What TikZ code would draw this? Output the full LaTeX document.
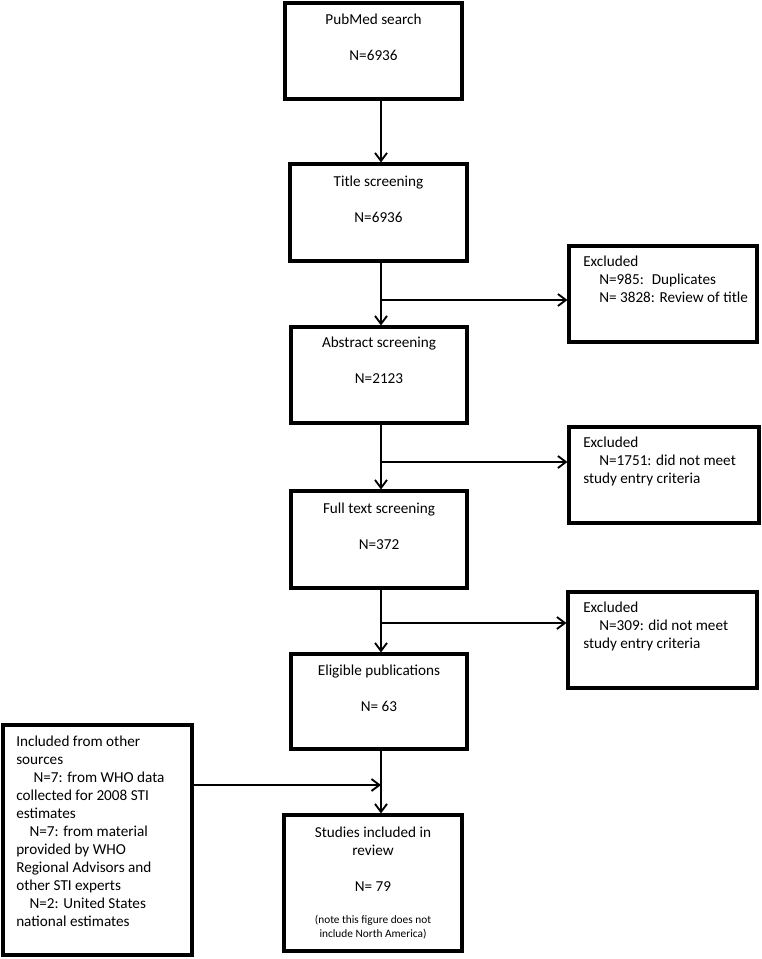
\documentclass[tikz,border=0pt]{standalone}
\usepackage{fontspec}
\setmainfont{Carlito}
\usetikzlibrary{arrows.meta,fit}
\newcommand{\boxlw}{2.3pt}
\newcommand{\arrlw}{1.4pt}

\begin{document}
\begin{tikzpicture}[x=0.75pt,y=-0.75pt,
	box/.style={draw, line width=\boxlw, inner sep=0pt},
	txt/.style={inner sep=0pt, font=\fontsize{11.4}{13.5}\selectfont},
	ctxt/.style={txt, anchor=north, align=center},
	ltxt/.style={txt, anchor=north west, align=left},
	arr/.style={line width=\arrlw, -{Straight Barb[length=6pt,width=9pt]}}]

	\useasboundingbox (0,0) rectangle (762,959);

	% main column
	\node[box, fit={(285,3) (462,99)}] (pubmed) {};
	\node[box, fit={(290,164) (467,261)}] (title) {};
	\node[box, fit={(291,327) (467,423)}] (abstract) {};
	\node[box, fit={(291,491) (467,588)}] (fulltext) {};
	\node[box, fit={(291,654) (467,749)}] (eligible) {};
	\node[box, fit={(284,815) (462,951)}] (studies) {};

	\node[ctxt] (pubmedtxt) at (373.5,14) {PubMed search\\[13.5pt]N=6936};
	\node[ctxt] (titletxt) at (378.5,176) {Title screening\\[13.5pt]N=6936};
	\node[ctxt] (abstracttxt) at (379,337) {Abstract screening\\[13.5pt]N=2123};
	\node[ctxt] (fulltexttxt) at (379,503) {Full text screening\\[13.5pt]N=372};
	\node[ctxt] (eligibletxt) at (379,665) {Eligible publications\\[13.5pt]N= 63};
	\node[ctxt] (studiestxt) at (373,827) {Studies included in\\review\\[13.5pt]N= 79};
	\node[ctxt, font=\fontsize{8.5}{10.5}\selectfont] (studiesnote) at (373,915)
		{(note this figure does not\\include North America)};

	% excluded boxes
	\node[box, fit={(569,246) (757,342)}] (excl1) {};
	\node[box, fit={(569,427) (759,523)}] (excl2) {};
	\node[box, fit={(568,592) (757,688)}] (excl3) {};

	\node[ltxt] (excl1txt) at (583,256)
		{Excluded\\\hspace*{12pt}N=985:~ Duplicates\\\hspace*{12pt}N= 3828: Review of title};
	\node[ltxt] (excl2txt) at (583,437)
		{Excluded\\\hspace*{12pt}N=1751: did not meet\\study entry criteria};
	\node[ltxt] (excl3txt) at (583,602)
		{Excluded\\\hspace*{12pt}N=309: did not meet\\study entry criteria};

	% other sources
	\node[box, fit={(3,725) (192,955)}] (other) {};
	\node[ltxt] (othertxt) at (16,736)
		{Included from other\\sources\\\hspace*{13pt}N=7: from WHO data\\collected for 2008 STI\\estimates\\
		\hspace*{10pt}N=7: from material\\provided by WHO\\Regional Advisors and\\other STI experts\\
		\hspace*{10pt}N=2: United States\\national estimates};

	% connectors
	\coordinate (spine) at (381,0);
	\draw[arr] (pubmed.south -| spine) -- (title.north -| spine);
	\draw[arr] (title.south -| spine) -- (abstract.north -| spine);
	\draw[arr] (abstract.south -| spine) -- (fulltext.north -| spine);
	\draw[arr] (fulltext.south -| spine) -- (eligible.north -| spine);
	\draw[arr] (eligible.south -| spine) -- (studies.north -| spine);

	\coordinate (j1) at (381,300);
	\coordinate (j2) at (381,462);
	\coordinate (j3) at (381,623);
	\coordinate (j4) at (381,785);
	\draw[arr] (j1) -- (j1 -| excl1.west);
	\draw[arr] (j2) -- (j2 -| excl2.west);
	\draw[arr] (j3) -- (j3 -| excl3.west);
	\draw[arr] (j4 -| other.east) -- (j4);
\end{tikzpicture}
\end{document}
